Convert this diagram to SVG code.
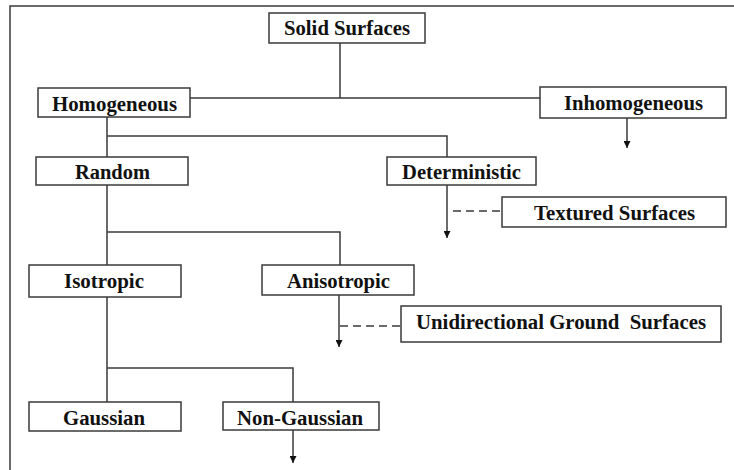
<svg xmlns="http://www.w3.org/2000/svg" width="734" height="470" viewBox="0 0 734 470">
<style>
.box{fill:#fff;stroke:#3a3a3a;stroke-width:1.5}
.t{font-family:"Liberation Serif","Times New Roman",serif;font-weight:bold;font-size:20.5px;fill:#111;text-anchor:middle}
.c{fill:none;stroke:#3a3a3a;stroke-width:1.5}
.d{fill:none;stroke:#3a3a3a;stroke-width:1.5;stroke-dasharray:8 5}
</style>
<defs>
<marker id="ah" viewBox="0 0 10 10" refX="10" refY="5" markerWidth="7" markerHeight="7" markerUnits="userSpaceOnUse" orient="auto">
<path d="M0,0 L10,5 L0,10 z" fill="#111"/>
</marker>
</defs>
<rect x="0" y="0" width="734" height="470" fill="#fff"/>
<path d="M10,470 V6 H734" fill="none" stroke="#3a3a3a" stroke-width="1.5"/>
<g id="connectors">
<path class="c" d="M340,43 V98 M190,98 H540"/>
<path class="c" d="M107,117 V157 M107,136 H447 V157"/>
<path class="c" d="M627,118 V148" marker-end="url(#ah)"/>
<path class="c" d="M107,185 V265 M107,232 H340 V265"/>
<path class="c" d="M447,185 V238" marker-end="url(#ah)"/>
<path class="d" d="M453,211 H502"/>
<path class="c" d="M339,295 V347" marker-end="url(#ah)"/>
<path class="d" d="M340,326 H401"/>
<path class="c" d="M107,297 V402 M107,368 H293 V402"/>
<path class="c" d="M293,430 V463" marker-end="url(#ah)"/>
</g>
<g id="solid"><rect class="box" x="269" y="13" width="156" height="30"/><text class="t" x="347" y="35" textLength="126" lengthAdjust="spacingAndGlyphs">Solid Surfaces</text></g>
<g id="homogeneous"><rect class="box" x="38" y="88" width="152" height="29"/><text class="t" x="114.5" y="111" textLength="125" lengthAdjust="spacingAndGlyphs">Homogeneous</text></g>
<g id="inhomogeneous"><rect class="box" x="540" y="87" width="186" height="31"/><text class="t" x="633.5" y="110" textLength="139" lengthAdjust="spacingAndGlyphs">Inhomogeneous</text></g>
<g id="random"><rect class="box" x="36" y="157" width="152" height="28"/><text class="t" x="112.5" y="179" textLength="75" lengthAdjust="spacingAndGlyphs">Random</text></g>
<g id="deterministic"><rect class="box" x="387" y="157" width="149" height="28"/><text class="t" x="461.5" y="179" textLength="119" lengthAdjust="spacingAndGlyphs">Deterministic</text></g>
<g id="textured"><rect class="box" x="502" y="197" width="224" height="30"/><text class="t" x="614.5" y="220" textLength="161" lengthAdjust="spacingAndGlyphs">Textured Surfaces</text></g>
<g id="isotropic"><rect class="box" x="29" y="265" width="152" height="32"/><text class="t" x="104" y="288" textLength="80" lengthAdjust="spacingAndGlyphs">Isotropic</text></g>
<g id="anisotropic"><rect class="box" x="262" y="265" width="152" height="30"/><text class="t" x="338.5" y="288" textLength="103" lengthAdjust="spacingAndGlyphs">Anisotropic</text></g>
<g id="unidirectional"><rect class="box" x="401" y="306" width="320" height="36"/><text class="t" x="561" y="329" textLength="290" lengthAdjust="spacingAndGlyphs" xml:space="preserve">Unidirectional Ground  Surfaces</text></g>
<g id="gaussian"><rect class="box" x="29" y="402" width="152" height="29"/><text class="t" x="104" y="425" textLength="82" lengthAdjust="spacingAndGlyphs">Gaussian</text></g>
<g id="nongaussian"><rect class="box" x="223" y="402" width="156" height="28"/><text class="t" x="300" y="425" textLength="126" lengthAdjust="spacingAndGlyphs">Non-Gaussian</text></g>
</svg>
